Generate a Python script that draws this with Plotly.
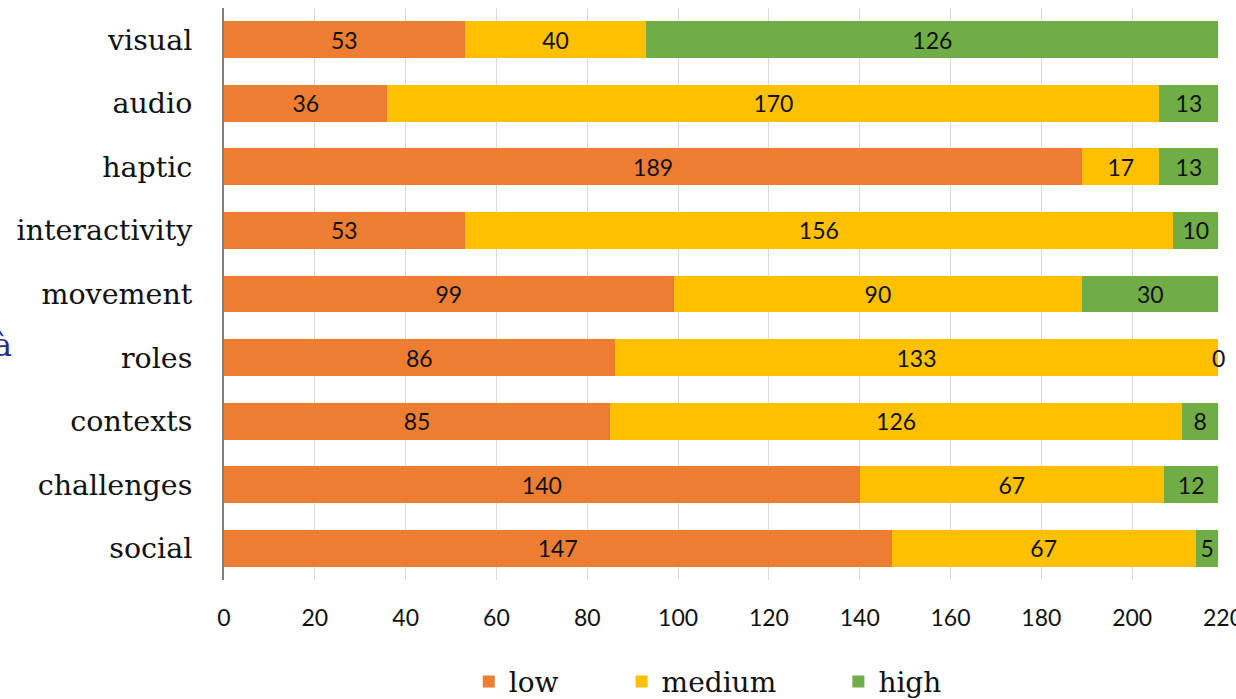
import plotly.graph_objects as go

# Survey categories (top to bottom) and counts per level
categories = ["visual", "audio", "haptic", "interactivity", "movement",
              "roles", "contexts", "challenges", "social"]
low = [53, 36, 189, 53, 99, 86, 85, 140, 147]
medium = [40, 170, 17, 156, 90, 133, 126, 67, 67]
high = [126, 13, 13, 10, 30, 0, 8, 12, 5]

series = [("low", low, "#ED7D31"), ("medium", medium, "#FFC000"), ("high", high, "#70AD47")]
x_ticks = list(range(0, 221, 20))

label_font = dict(family="Lato, 'Liberation Sans', sans-serif", size=23, color="#111111")
serif = "'DejaVu Serif', 'Liberation Serif', serif"

fig = go.Figure()
legend_ids = ["legend", "legend2", "legend3"]
for (name, vals, color), lid in zip(series, legend_ids):
    fig.add_trace(go.Bar(
        y=categories, x=vals, name=name, orientation="h",
        marker=dict(color=color, line=dict(width=0)),
        text=[str(v) if v else "" for v in vals],
        textposition="inside", insidetextanchor="middle",
        textfont=label_font, constraintext="none",
        legend=lid, showlegend=True,
    ))

# Zero-size segments still get their value printed at the bar end
annotations = []
cum = [0] * len(categories)
for name, vals, color in series:
    for i, v in enumerate(vals):
        cum[i] += v
        if v == 0:
            annotations.append(dict(x=cum[i], y=categories[i], xref="x", yref="y",
                                    text=str(v), showarrow=False, font=label_font,
                                    xanchor="center", yanchor="middle"))

# Fragment of a rotated caption at the left edge
annotations.append(dict(x=-0.222, y=0.41, xref="paper", yref="paper", text="à",
                        showarrow=False, font=dict(family=serif, size=32, color="#262A8C"),
                        xanchor="center", yanchor="middle"))

legend_style = dict(orientation="h", yanchor="middle", y=-0.178, xanchor="left",
                    font=dict(family=serif, size=28, color="#111111"),
                    bgcolor="rgba(0,0,0,0)", itemwidth=30)

fig.update_layout(
    barmode="stack",
    bargap=0.42,
    width=1236, height=699,
    showlegend=True,
    margin=dict(l=224, r=13, t=8, b=119, autoexpand=False),
    paper_bgcolor="white", plot_bgcolor="white",
    legend=dict(x=0.245, **legend_style),
    legend2=dict(x=0.398, **legend_style),
    legend3=dict(x=0.615, **legend_style),
    annotations=annotations,
    xaxis=dict(range=[0, 220], tickvals=x_ticks, ticktext=[str(t) for t in x_ticks],
               showgrid=True, gridcolor="#D9D9D9", gridwidth=1, zeroline=False,
               showline=False, ticks="", ticklabelstandoff=22,
               ticklabeloverflow="allow",
               tickfont=dict(family="Lato, 'Liberation Sans', sans-serif", size=23, color="#111111")),
    yaxis=dict(categoryorder="array", categoryarray=categories[::-1],
               range=[-0.5, 8.5], showgrid=False, zeroline=False,
               showline=True, linecolor="#808080", linewidth=2, ticks="",
               ticklabelstandoff=24,
               tickfont=dict(family=serif, size=28.5, color="#111111")),
)

fig.write_html("out.html")
